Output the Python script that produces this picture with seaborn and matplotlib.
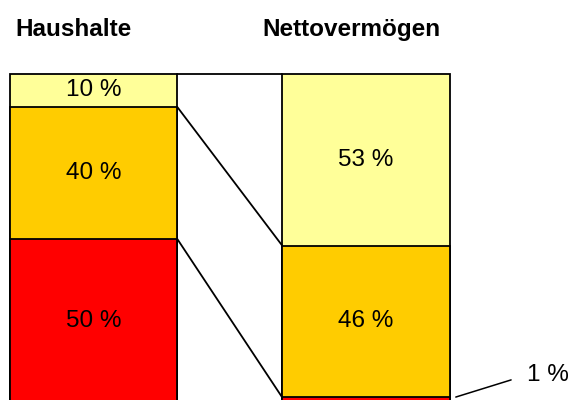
import matplotlib
matplotlib.use("Agg")
import matplotlib.pyplot as plt
import seaborn as sns
import numpy as np

# data
groups = ["Haushalte", "Nettovermögen"]
segments = ["unten", "mitte", "oben"]
haushalte = [50, 40, 10]        # bottom -> top
vermoegen = [2, 46, 52]         # bar heights as drawn
vermoegen_labels = [1, 46, 53]  # published shares
colors = ["#FF0000", "#FFCC00", "#FFFF99"]

sns.set_theme(style="white")
plt.rcParams["font.family"] = ["Liberation Sans", "DejaVu Sans"]
plt.rcParams["text.color"] = "black"

fig = plt.figure(figsize=(5.73, 4.0), dpi=100)
ax = fig.add_axes([0, 0, 1, 1])

w = 0.615
cum_h = np.cumsum(haushalte)
cum_v = np.cumsum(vermoegen)

# stacked bars: draw cumulative totals from the top layer down
for i in reversed(range(len(segments))):
    sns.barplot(x=groups, y=[cum_h[i], cum_v[i]], color=colors[i],
                saturation=1, width=w, edgecolor="black", linewidth=1.3, ax=ax)

# connecting lines between the segment boundaries
x0, x1 = 0 + w / 2, 1 - w / 2
for a, b in zip(np.r_[0, cum_h], np.r_[0, cum_v]):
    ax.plot([x0, x1], [a, b], color="black", lw=1.3)

# segment labels
for i in range(len(segments)):
    ax.text(0, cum_h[i] - haushalte[i] / 2, f"{haushalte[i]} %",
            ha="center", va="center", fontsize=17.5, color="black")
for i in range(1, len(segments)):
    ax.text(1, cum_v[i] - vermoegen[i] / 2, f"{vermoegen_labels[i]} %",
            ha="center", va="center", fontsize=17.5, color="black")

# small segment label with leader line
ax.plot([1 + w / 2 + 0.022, 1 + w / 2 + 0.225], [2.1, 7.3], color="black", lw=1.1)
ax.text(1 + w / 2 + 0.285, 7.0, f"{vermoegen_labels[0]} %", ha="left", va="baseline",
        fontsize=17.5, color="black")

ax.set_xlim(-0.3431, 1.7596)
ax.set_ylim(1.21, 122.42)
ax.axis("off")

fig.text(15 / 573, 1 - 36 / 400, groups[0], fontsize=17.5, fontweight="bold",
         va="baseline", color="black")
fig.text(262 / 573, 1 - 36 / 400, groups[1], fontsize=17.5, fontweight="bold",
         va="baseline", color="black")

fig.savefig("out.png", dpi=100)
